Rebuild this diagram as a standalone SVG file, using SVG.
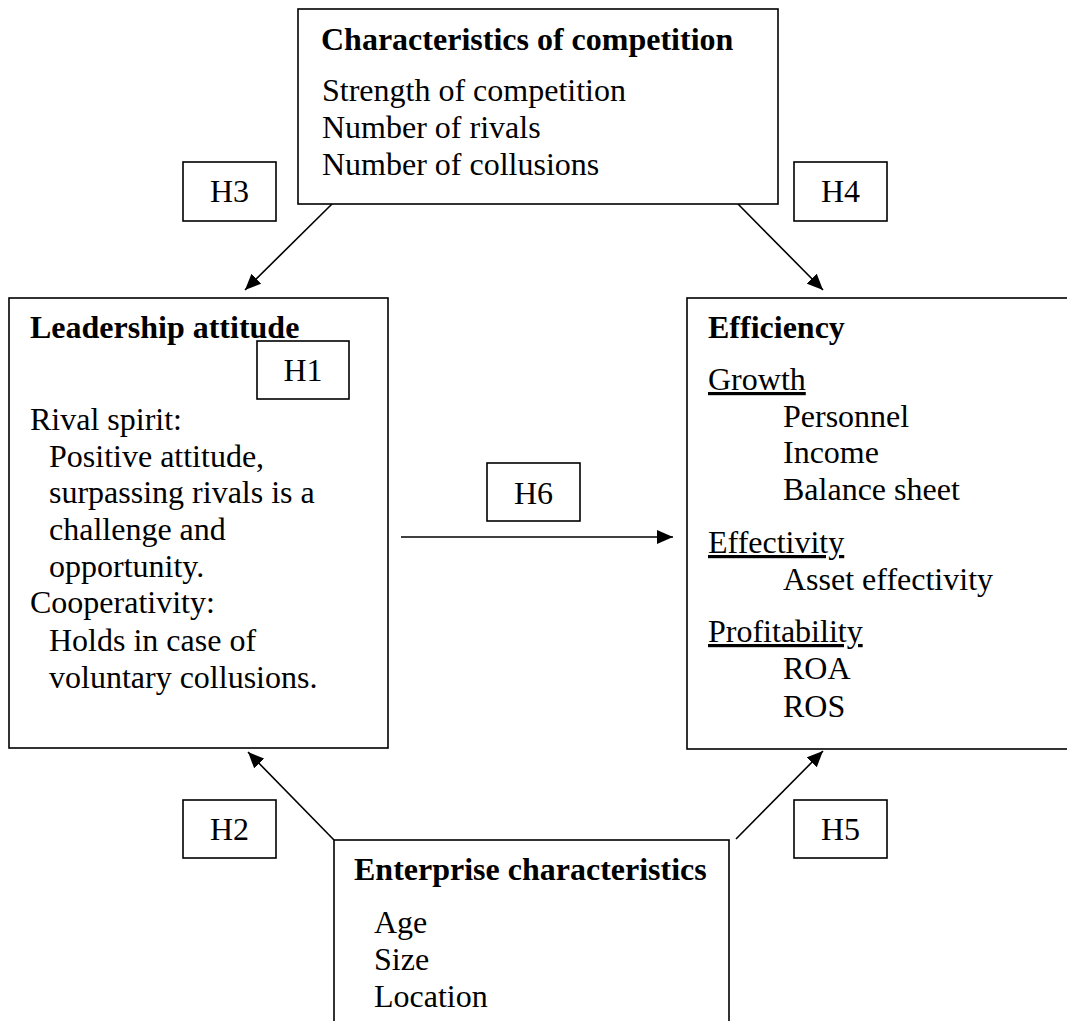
<svg xmlns="http://www.w3.org/2000/svg" width="1067" height="1021" viewBox="0 0 1067 1021">
<style>
.box{fill:#fff;stroke:#000;stroke-width:1.6}
.hbox{fill:#fff;stroke:#000;stroke-width:1.6}
text{font-family:"Liberation Serif","Times New Roman",serif;font-size:32px;fill:#000}
.b{font-weight:bold}
.h{text-anchor:middle}
.u{text-decoration:underline}
.con{stroke:#000;stroke-width:1.6;fill:none;marker-end:url(#ah)}
</style>
<defs>
<marker id="ah" markerUnits="userSpaceOnUse" markerWidth="16" markerHeight="14" refX="16" refY="7" orient="auto">
<path d="M0,0 L16,7 L0,14 z" fill="#000"/>
</marker>
</defs>
<rect width="1067" height="1021" fill="#fff"/>
<g id="connectors">
<line class="con" x1="332" y1="204" x2="245" y2="290"/>
<line class="con" x1="738" y1="204" x2="823" y2="290"/>
<line class="con" x1="334" y1="840" x2="248" y2="752"/>
<line class="con" x1="736" y1="839" x2="823" y2="751"/>
<line class="con" x1="401" y1="537" x2="673" y2="537"/>
</g>
<g id="competition">
<rect class="box" x="298" y="9" width="480" height="195"/>
<text class="b" x="321" y="50">Characteristics of competition</text>
<text x="322" y="101">Strength of competition</text>
<text x="322" y="138">Number of rivals</text>
<text x="322" y="175">Number of collusions</text>
</g>
<g id="leadership">
<rect class="box" x="9" y="298" width="379" height="450"/>
<text class="b" x="30" y="338">Leadership attitude</text>
<text x="30" y="430">Rival spirit:</text>
<text x="49" y="467">Positive attitude,</text>
<text x="49" y="503">surpassing rivals is a</text>
<text x="49" y="540">challenge and</text>
<text x="49" y="577">opportunity.</text>
<text x="30" y="613">Cooperativity:</text>
<text x="49" y="651">Holds in case of</text>
<text x="49" y="688">voluntary collusions.</text>
</g>
<g id="efficiency">
<rect class="box" x="687" y="298" width="400" height="451"/>
<text class="b" x="708" y="338">Efficiency</text>
<text class="u" x="708" y="390">Growth</text>
<text x="783" y="427">Personnel</text>
<text x="783" y="463">Income</text>
<text x="783" y="500">Balance sheet</text>
<text class="u" x="708" y="553">Effectivity</text>
<text x="783" y="590">Asset effectivity</text>
<text class="u" x="708" y="642">Profitability</text>
<text x="783" y="679">ROA</text>
<text x="783" y="717">ROS</text>
</g>
<g id="enterprise">
<rect class="box" x="334" y="840" width="395" height="200"/>
<text class="b" x="354" y="880">Enterprise characteristics</text>
<text x="374" y="933">Age</text>
<text x="374" y="970">Size</text>
<text x="374" y="1007">Location</text>
</g>
<g id="H1">
<rect class="hbox" x="257" y="341" width="92" height="58"/>
<text class="h" x="303" y="381">H1</text>
</g>
<g id="H2">
<rect class="hbox" x="183" y="800" width="93" height="58"/>
<text class="h" x="229.5" y="840">H2</text>
</g>
<g id="H3">
<rect class="hbox" x="183" y="162" width="93" height="59"/>
<text class="h" x="229.5" y="202">H3</text>
</g>
<g id="H4">
<rect class="hbox" x="794" y="162" width="93" height="59"/>
<text class="h" x="840.5" y="202">H4</text>
</g>
<g id="H5">
<rect class="hbox" x="794" y="800" width="93" height="58"/>
<text class="h" x="840.5" y="840">H5</text>
</g>
<g id="H6">
<rect class="hbox" x="487" y="463" width="93" height="58"/>
<text class="h" x="533.5" y="504">H6</text>
</g>
</svg>
